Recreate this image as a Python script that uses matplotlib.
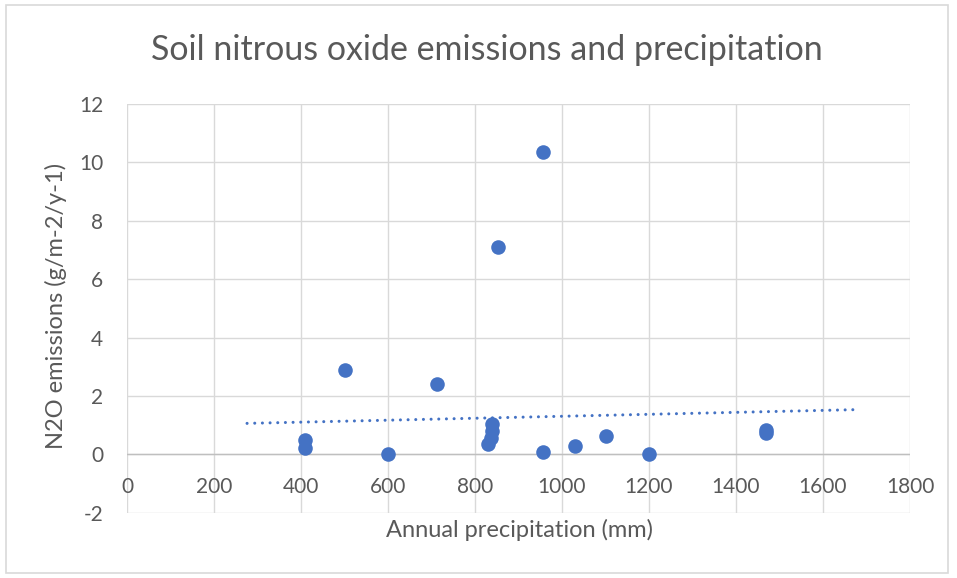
import matplotlib
matplotlib.use("Agg")
import matplotlib.pyplot as plt
from matplotlib.patches import Rectangle

# annual precipitation (mm) and soil N2O emissions per site
precip = [409, 409, 501, 599, 712, 830, 836, 840, 840, 853, 957, 957, 1030, 1100, 1200, 1470, 1470]
n2o = [0.5, 0.22, 2.9, 0.0, 2.4, 0.35, 0.55, 0.8, 1.05, 7.1, 10.35, 0.08, 0.3, 0.62, 0.02, 0.85, 0.72]

# dotted trend line end points
trend_x = [276, 1675]
trend_y = [1.06, 1.53]

x_ticks = list(range(0, 1801, 200))
y_ticks = list(range(-2, 13, 2))

blue = "#4472C4"
grid = "#D9D9D9"
txt = "#595959"

plt.rcParams['font.family'] = ['Lato', 'DejaVu Sans']
plt.rcParams['axes.unicode_minus'] = False

W, H = 957, 578
fig = plt.figure(figsize=(W / 100, H / 100), dpi=100)
ax = fig.add_axes([127 / W, 1 - 512.7 / H, (910 - 127) / W, (512.7 - 104) / H])

# chart area border
fig.patches.append(Rectangle((0.006, 0.008), 0.985, 0.984, transform=fig.transFigure,
                             fill=False, edgecolor="#D9D9D9", linewidth=1.2))

ax.set_xlim(0, 1800)
ax.set_ylim(-2, 12)
ax.set_xticks(x_ticks)
ax.set_yticks(y_ticks)
ax.grid(True, color=grid, linewidth=1.0)
ax.set_axisbelow(True)
for s in ax.spines.values():
    s.set_visible(False)

# horizontal axis crosses at y = 0, labels sit right under it
ax.axhline(0, color="#BFBFBF", linewidth=1.0, zorder=1)
ax.tick_params(length=0, colors=txt, labelsize=15)
ax.tick_params(axis='x', pad=-26)
ax.tick_params(axis='y', pad=17)

ax.scatter(precip, n2o, s=110, color=blue, zorder=3, linewidths=0)
ax.plot(trend_x, trend_y, color=blue, linewidth=2.2, dashes=(0.01, 2.5),
        dash_capstyle='round', zorder=2)

fig.text(520 / W, 1 - 530 / H, "Annual precipitation (mm)", ha='center', va='center',
         fontsize=17, color=txt)
fig.text(56 / W, 1 - 306 / H, "N2O emissions (g/m-2/y-1)", ha='center', va='center',
         rotation=90, fontsize=17, color=txt)
fig.text(487 / W, 1 - 50 / H, "Soil nitrous oxide emissions and precipitation",
         ha='center', va='center', fontsize=24.5, color=txt)

fig.savefig("out.png", dpi=100, facecolor="white")
